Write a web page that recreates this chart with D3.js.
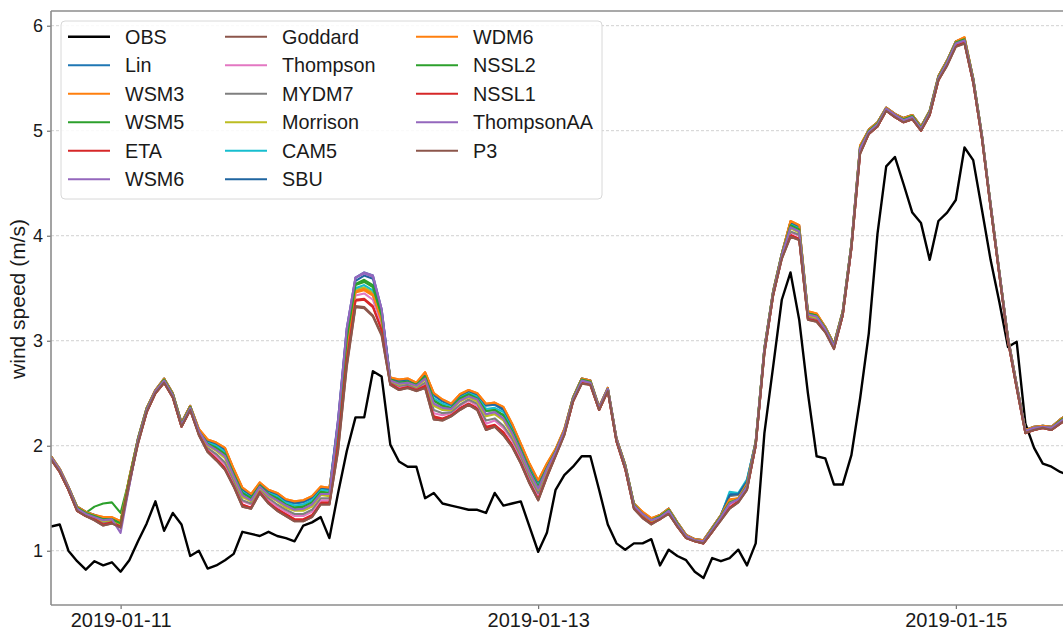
<!DOCTYPE html>
<html>
<head>
<meta charset="utf-8">
<script src="https://cdn.jsdelivr.net/npm/d3@7"></script>
<style>
  body { margin: 0; background: #fff; }
  svg text { font-family: "Liberation Sans", Arial, Helvetica, sans-serif; fill: #1a1a1a; }
</style>
</head>
<body>
<div id="container"></div>
<script>
// hourly series, first value at 2019-01-10 16:00 UTC
const startTime = "2019-01-10T16:00:00Z";
const xTickLabels = ["2019-01-11", "2019-01-13", "2019-01-15"];
const yTicks = [1, 2, 3, 4, 5, 6];

const obs = [1.23,1.25,1.00,0.90,0.82,0.90,0.86,0.89,0.80,0.91,
  1.09,1.26,1.47,1.19,1.36,1.25,0.95,1.00,0.83,0.86,
  0.91,0.97,1.18,1.16,1.14,1.18,1.14,1.12,1.09,1.24,
  1.27,1.32,1.12,1.55,1.95,2.27,2.27,2.71,2.66,2.01,
  1.85,1.80,1.80,1.50,1.55,1.45,1.43,1.41,1.39,1.39,
  1.36,1.55,1.43,1.45,1.47,1.23,0.99,1.17,1.58,1.72,
  1.80,1.90,1.90,1.58,1.25,1.07,1.01,1.07,1.07,1.11,
  0.86,1.01,0.95,0.91,0.80,0.74,0.93,0.90,0.93,1.01,
  0.86,1.07,2.12,2.75,3.39,3.65,3.20,2.50,1.90,1.88,
  1.63,1.63,1.91,2.45,3.07,4.02,4.66,4.75,4.49,4.22,
  4.12,3.77,4.14,4.22,4.34,4.84,4.72,4.25,3.77,3.37,
  2.94,2.99,2.21,1.98,1.83,1.80,1.75,1.72];

const lin = [1.90,1.78,1.61,1.42,1.37,1.34,1.31,1.31,1.27,1.69,
  2.07,2.36,2.53,2.64,2.50,2.22,2.38,2.15,2.05,2.01,
  1.96,1.76,1.58,1.53,1.64,1.57,1.53,1.47,1.45,1.46,
  1.50,1.59,1.58,2.25,3.12,3.60,3.65,3.62,3.30,2.64,
  2.62,2.63,2.59,2.69,2.48,2.42,2.39,2.48,2.52,2.48,
  2.38,2.39,2.34,2.19,2.00,1.81,1.65,1.82,1.96,2.15,
  2.46,2.64,2.62,2.37,2.55,2.07,1.82,1.45,1.36,1.30,
  1.34,1.40,1.27,1.15,1.11,1.10,1.22,1.34,1.54,1.54,
  1.67,2.04,2.93,3.47,3.83,4.13,4.09,3.27,3.25,3.13,
  2.97,3.28,3.92,4.85,5.01,5.08,5.22,5.16,5.12,5.15,
  5.04,5.19,5.52,5.67,5.85,5.88,5.50,4.96,4.30,3.66,
  3.03,2.58,2.15,2.18,2.19,2.18,2.25,2.31];

const wsm3 = [1.90,1.78,1.61,1.42,1.37,1.34,1.32,1.32,1.28,1.70,
  2.07,2.36,2.53,2.64,2.50,2.22,2.38,2.16,2.06,2.03,
  1.98,1.78,1.60,1.54,1.65,1.58,1.55,1.49,1.47,1.48,
  1.52,1.61,1.60,2.10,2.94,3.46,3.48,3.43,3.18,2.65,
  2.63,2.64,2.60,2.70,2.50,2.44,2.40,2.49,2.53,2.50,
  2.40,2.41,2.37,2.21,2.02,1.83,1.67,1.83,1.97,2.16,
  2.46,2.64,2.62,2.37,2.55,2.07,1.82,1.45,1.37,1.31,
  1.34,1.40,1.27,1.15,1.11,1.10,1.22,1.34,1.48,1.50,
  1.63,2.04,2.93,3.47,3.83,4.14,4.10,3.28,3.26,3.13,
  2.97,3.28,3.92,4.86,5.01,5.08,5.22,5.16,5.12,5.15,
  5.04,5.19,5.52,5.67,5.85,5.89,5.50,4.96,4.30,3.66,
  3.03,2.58,2.15,2.18,2.19,2.18,2.25,2.31];

const wsm5 = [1.89,1.77,1.60,1.41,1.36,1.42,1.45,1.46,1.36,1.68,
  2.06,2.35,2.52,2.63,2.49,2.21,2.37,2.14,2.02,1.98,
  1.92,1.73,1.55,1.50,1.62,1.54,1.50,1.44,1.41,1.42,
  1.46,1.56,1.55,2.18,3.04,3.54,3.58,3.53,3.25,2.63,
  2.60,2.61,2.58,2.66,2.43,2.38,2.36,2.45,2.49,2.45,
  2.33,2.34,2.29,2.14,1.96,1.77,1.61,1.79,1.95,2.14,
  2.45,2.63,2.61,2.36,2.54,2.06,1.81,1.44,1.35,1.29,
  1.33,1.39,1.26,1.14,1.10,1.09,1.21,1.33,1.46,1.49,
  1.62,2.03,2.92,3.46,3.82,4.10,4.06,3.26,3.24,3.12,
  2.96,3.27,3.91,4.84,5.00,5.07,5.21,5.15,5.11,5.14,
  5.03,5.18,5.51,5.66,5.84,5.87,5.49,4.95,4.29,3.65,
  3.02,2.57,2.14,2.17,2.18,2.17,2.24,2.30];

const eta = [1.87,1.75,1.58,1.38,1.33,1.30,1.25,1.27,1.23,1.65,
  2.03,2.32,2.50,2.60,2.46,2.18,2.34,2.11,1.95,1.88,
  1.79,1.63,1.44,1.41,1.56,1.46,1.40,1.35,1.30,1.30,
  1.34,1.46,1.46,2.03,2.84,3.39,3.40,3.33,3.11,2.59,
  2.54,2.56,2.53,2.57,2.28,2.26,2.29,2.36,2.40,2.36,
  2.18,2.20,2.13,2.01,1.85,1.66,1.50,1.71,1.91,2.11,
  2.42,2.60,2.58,2.34,2.52,2.04,1.78,1.41,1.32,1.26,
  1.30,1.36,1.23,1.12,1.09,1.07,1.18,1.30,1.41,1.47,
  1.59,2.00,2.89,3.43,3.79,4.01,3.97,3.21,3.19,3.09,
  2.93,3.24,3.88,4.79,4.97,5.04,5.19,5.13,5.08,5.11,
  5.00,5.15,5.48,5.63,5.81,5.84,5.46,4.93,4.27,3.63,
  3.00,2.55,2.12,2.15,2.17,2.15,2.21,2.27];

const wsm6 = [1.89,1.77,1.60,1.40,1.35,1.32,1.29,1.30,1.22,1.62,
  2.05,2.34,2.52,2.62,2.48,2.20,2.36,2.14,2.01,1.96,
  1.90,1.71,1.53,1.48,1.61,1.53,1.48,1.43,1.39,1.40,
  1.44,1.54,1.54,2.25,3.12,3.60,3.65,3.62,3.30,2.62,
  2.59,2.60,2.57,2.64,2.40,2.36,2.35,2.43,2.47,2.44,
  2.30,2.32,2.26,2.12,1.94,1.75,1.59,1.78,1.94,2.14,
  2.44,2.62,2.60,2.36,2.54,2.06,1.80,1.43,1.35,1.29,
  1.32,1.38,1.25,1.14,1.10,1.09,1.20,1.32,1.45,1.49,
  1.61,2.02,2.91,3.45,3.81,4.08,4.04,3.25,3.23,3.11,
  2.95,3.26,3.90,4.83,4.99,5.06,5.21,5.15,5.10,5.13,
  5.02,5.17,5.50,5.65,5.83,5.87,5.48,4.95,4.29,3.65,
  3.02,2.57,2.14,2.17,2.18,2.17,2.23,2.29];

const goddard = [1.87,1.75,1.58,1.38,1.33,1.29,1.24,1.26,1.22,1.64,
  2.02,2.32,2.50,2.60,2.46,2.18,2.34,2.10,1.94,1.86,
  1.77,1.61,1.42,1.40,1.55,1.45,1.38,1.33,1.28,1.28,
  1.32,1.44,1.44,1.95,2.75,3.32,3.31,3.23,3.05,2.58,
  2.53,2.55,2.52,2.55,2.25,2.24,2.28,2.34,2.39,2.34,
  2.15,2.18,2.10,1.99,1.83,1.64,1.48,1.70,1.90,2.10,
  2.42,2.59,2.58,2.34,2.52,2.04,1.78,1.40,1.31,1.25,
  1.30,1.35,1.23,1.12,1.09,1.07,1.18,1.29,1.40,1.46,
  1.58,2.00,2.88,3.43,3.78,3.99,3.96,3.20,3.18,3.08,
  2.92,3.24,3.88,4.78,4.97,5.04,5.19,5.13,5.08,5.11,
  5.00,5.15,5.48,5.62,5.80,5.83,5.46,4.93,4.27,3.63,
  3.00,2.55,2.12,2.15,2.17,2.15,2.21,2.27];

const thompson = [1.88,1.76,1.59,1.39,1.34,1.30,1.26,1.28,1.24,1.66,
  2.03,2.33,2.51,2.61,2.47,2.19,2.35,2.12,1.97,1.90,
  1.82,1.65,1.47,1.44,1.58,1.48,1.42,1.37,1.33,1.33,
  1.37,1.48,1.48,2.07,2.90,3.43,3.45,3.39,3.15,2.60,
  2.56,2.57,2.54,2.59,2.31,2.29,2.31,2.38,2.43,2.38,
  2.21,2.24,2.17,2.05,1.88,1.69,1.53,1.73,1.92,2.12,
  2.43,2.60,2.59,2.35,2.53,2.05,1.79,1.41,1.33,1.27,
  1.31,1.36,1.24,1.13,1.10,1.08,1.19,1.30,1.44,1.48,
  1.61,2.01,2.89,3.44,3.79,4.03,4.00,3.22,3.20,3.09,
  2.93,3.25,3.89,4.80,4.98,5.05,5.20,5.14,5.09,5.12,
  5.01,5.16,5.49,5.63,5.81,5.85,5.47,4.94,4.28,3.64,
  3.01,2.56,2.13,2.16,2.18,2.16,2.22,2.28];

const mydm7 = [1.88,1.76,1.59,1.39,1.34,1.31,1.27,1.28,1.24,1.66,
  2.04,2.33,2.51,2.61,2.47,2.19,2.35,2.12,1.98,1.92,
  1.84,1.67,1.48,1.45,1.59,1.50,1.44,1.39,1.35,1.35,
  1.39,1.50,1.50,2.12,2.95,3.47,3.50,3.44,3.19,2.60,
  2.57,2.58,2.55,2.60,2.34,2.31,2.32,2.39,2.44,2.40,
  2.24,2.26,2.19,2.07,1.90,1.71,1.55,1.75,1.92,2.12,
  2.43,2.61,2.59,2.35,2.53,2.05,1.79,1.42,1.33,1.27,
  1.31,1.37,1.24,1.13,1.10,1.08,1.19,1.31,1.52,1.53,
  1.65,2.01,2.90,3.44,3.80,4.04,4.01,3.23,3.21,3.10,
  2.94,3.25,3.89,4.81,4.98,5.05,5.20,5.14,5.09,5.12,
  5.01,5.16,5.49,5.64,5.82,5.85,5.47,4.94,4.28,3.64,
  3.01,2.56,2.13,2.16,2.18,2.16,2.22,2.28];

const morrison = [1.89,1.77,1.60,1.40,1.35,1.32,1.28,1.29,1.25,1.67,
  2.05,2.34,2.52,2.62,2.48,2.20,2.36,2.13,2.00,1.95,
  1.88,1.70,1.51,1.47,1.60,1.52,1.47,1.41,1.38,1.38,
  1.42,1.53,1.52,2.13,2.97,3.49,3.51,3.46,3.20,2.62,
  2.58,2.60,2.56,2.63,2.38,2.34,2.34,2.42,2.46,2.42,
  2.28,2.30,2.24,2.10,1.93,1.74,1.58,1.77,1.94,2.13,
  2.44,2.62,2.60,2.36,2.54,2.06,1.80,1.43,1.34,1.28,
  1.32,1.38,1.25,1.14,1.10,1.09,1.20,1.32,1.47,1.50,
  1.62,2.02,2.91,3.45,3.81,4.07,4.03,3.24,3.22,3.11,
  2.95,3.26,3.90,4.82,4.99,5.06,5.21,5.15,5.10,5.13,
  5.02,5.17,5.50,5.65,5.83,5.86,5.48,4.95,4.29,3.65,
  3.02,2.57,2.14,2.17,2.18,2.17,2.23,2.29];

const cam5 = [1.89,1.77,1.60,1.41,1.36,1.33,1.30,1.31,1.27,1.69,
  2.06,2.35,2.52,2.63,2.49,2.21,2.37,2.15,2.04,2.00,
  1.94,1.75,1.56,1.51,1.63,1.55,1.52,1.46,1.43,1.44,
  1.48,1.58,1.57,2.15,2.99,3.50,3.53,3.48,3.21,2.64,
  2.61,2.62,2.58,2.67,2.45,2.40,2.38,2.46,2.50,2.47,
  2.35,2.36,2.32,2.17,1.98,1.79,1.63,1.80,1.96,2.15,
  2.45,2.63,2.61,2.36,2.54,2.06,1.81,1.44,1.36,1.30,
  1.33,1.39,1.26,1.14,1.11,1.09,1.21,1.33,1.56,1.55,
  1.68,2.03,2.92,3.46,3.82,4.11,4.07,3.26,3.24,3.12,
  2.96,3.27,3.91,4.84,5.00,5.07,5.21,5.15,5.11,5.14,
  5.03,5.18,5.51,5.66,5.84,5.88,5.49,4.95,4.29,3.65,
  3.02,2.57,2.14,2.17,2.19,2.17,2.24,2.30];

const sbu = [1.90,1.78,1.61,1.42,1.37,1.34,1.31,1.31,1.27,1.69,
  2.07,2.36,2.53,2.64,2.50,2.22,2.38,2.15,2.05,2.02,
  1.97,1.77,1.59,1.53,1.64,1.57,1.54,1.48,1.46,1.47,
  1.51,1.60,1.59,2.22,3.08,3.57,3.62,3.59,3.28,2.64,
  2.62,2.63,2.59,2.69,2.49,2.43,2.39,2.48,2.52,2.49,
  2.39,2.40,2.35,2.20,2.01,1.82,1.66,1.82,1.96,2.15,
  2.46,2.64,2.62,2.37,2.55,2.07,1.82,1.45,1.36,1.30,
  1.34,1.40,1.27,1.15,1.11,1.10,1.22,1.34,1.53,1.54,
  1.66,2.04,2.93,3.47,3.83,4.13,4.09,3.27,3.25,3.13,
  2.97,3.28,3.92,4.85,5.01,5.08,5.22,5.16,5.12,5.15,
  5.04,5.19,5.52,5.67,5.85,5.88,5.50,4.96,4.30,3.66,
  3.03,2.58,2.15,2.18,2.19,2.18,2.25,2.31];

const wdm6 = [1.90,1.78,1.61,1.42,1.37,1.34,1.32,1.32,1.28,1.70,
  2.07,2.36,2.53,2.64,2.50,2.22,2.38,2.16,2.06,2.03,
  1.98,1.78,1.60,1.54,1.65,1.58,1.55,1.49,1.47,1.48,
  1.52,1.61,1.60,2.11,2.96,3.47,3.49,3.44,3.19,2.65,
  2.63,2.64,2.60,2.70,2.50,2.44,2.40,2.49,2.53,2.50,
  2.40,2.41,2.37,2.21,2.02,1.83,1.67,1.83,1.97,2.16,
  2.46,2.64,2.62,2.37,2.55,2.07,1.82,1.45,1.37,1.31,
  1.34,1.40,1.27,1.15,1.11,1.10,1.22,1.34,1.49,1.50,
  1.64,2.04,2.93,3.47,3.83,4.14,4.10,3.28,3.26,3.13,
  2.97,3.28,3.92,4.86,5.01,5.08,5.22,5.16,5.12,5.15,
  5.04,5.19,5.52,5.67,5.85,5.89,5.50,4.96,4.30,3.66,
  3.03,2.58,2.15,2.18,2.19,2.18,2.25,2.31];

const nssl2 = [1.89,1.77,1.60,1.41,1.36,1.33,1.30,1.30,1.26,1.68,
  2.06,2.35,2.52,2.63,2.49,2.21,2.37,2.14,2.02,1.98,
  1.92,1.73,1.55,1.50,1.62,1.54,1.50,1.44,1.41,1.42,
  1.46,1.56,1.55,2.17,3.02,3.53,3.56,3.51,3.24,2.63,
  2.60,2.61,2.58,2.66,2.43,2.38,2.36,2.45,2.49,2.45,
  2.33,2.34,2.29,2.14,1.96,1.77,1.61,1.79,1.95,2.14,
  2.45,2.63,2.61,2.36,2.54,2.06,1.81,1.44,1.35,1.29,
  1.33,1.39,1.26,1.14,1.10,1.09,1.21,1.33,1.46,1.49,
  1.62,2.03,2.92,3.46,3.82,4.10,4.06,3.26,3.24,3.12,
  2.96,3.27,3.91,4.84,5.00,5.07,5.21,5.15,5.11,5.14,
  5.03,5.18,5.51,5.66,5.84,5.87,5.49,4.95,4.29,3.65,
  3.02,2.57,2.14,2.17,2.18,2.17,2.24,2.30];

const nssl1 = [1.87,1.75,1.58,1.38,1.33,1.30,1.25,1.27,1.23,1.65,
  2.03,2.32,2.50,2.60,2.46,2.18,2.34,2.11,1.95,1.87,
  1.78,1.62,1.43,1.41,1.56,1.46,1.39,1.34,1.29,1.29,
  1.33,1.45,1.45,2.02,2.82,3.38,3.39,3.32,3.10,2.59,
  2.54,2.56,2.53,2.57,2.27,2.25,2.29,2.35,2.40,2.35,
  2.17,2.19,2.12,2.00,1.84,1.65,1.49,1.71,1.91,2.11,
  2.42,2.60,2.58,2.34,2.52,2.04,1.78,1.41,1.32,1.26,
  1.30,1.36,1.23,1.12,1.09,1.07,1.18,1.30,1.41,1.47,
  1.59,2.00,2.89,3.43,3.79,4.00,3.97,3.21,3.19,3.09,
  2.93,3.24,3.88,4.79,4.97,5.04,5.19,5.13,5.08,5.11,
  5.00,5.15,5.48,5.63,5.81,5.84,5.46,4.93,4.27,3.63,
  3.00,2.55,2.12,2.15,2.17,2.15,2.21,2.27];

const thompsonAA = [1.89,1.77,1.60,1.40,1.35,1.32,1.29,1.30,1.17,1.62,
  2.05,2.34,2.52,2.62,2.48,2.20,2.36,2.14,2.01,1.96,
  1.90,1.71,1.53,1.48,1.61,1.53,1.48,1.43,1.39,1.40,
  1.44,1.54,1.54,2.24,3.11,3.60,3.64,3.61,3.30,2.62,
  2.59,2.60,2.57,2.64,2.40,2.36,2.35,2.43,2.47,2.44,
  2.30,2.32,2.26,2.12,1.94,1.75,1.59,1.78,1.94,2.14,
  2.44,2.62,2.60,2.36,2.54,2.06,1.80,1.43,1.35,1.29,
  1.32,1.38,1.25,1.14,1.10,1.09,1.20,1.32,1.45,1.49,
  1.61,2.02,2.91,3.45,3.81,4.08,4.04,3.25,3.23,3.11,
  2.95,3.26,3.90,4.83,4.99,5.06,5.21,5.15,5.10,5.13,
  5.02,5.17,5.50,5.65,5.83,5.86,5.48,4.95,4.29,3.65,
  3.02,2.57,2.14,2.17,2.18,2.17,2.23,2.29];

const p3 = [1.87,1.75,1.58,1.38,1.33,1.29,1.24,1.26,1.22,1.64,
  2.02,2.32,2.50,2.60,2.46,2.18,2.34,2.10,1.94,1.86,
  1.77,1.61,1.42,1.40,1.55,1.45,1.38,1.33,1.28,1.28,
  1.32,1.44,1.44,1.96,2.77,3.33,3.32,3.24,3.06,2.58,
  2.53,2.55,2.52,2.55,2.25,2.24,2.28,2.34,2.39,2.34,
  2.15,2.18,2.10,1.99,1.83,1.64,1.48,1.70,1.90,2.10,
  2.42,2.59,2.58,2.34,2.52,2.04,1.78,1.40,1.31,1.25,
  1.30,1.35,1.23,1.12,1.09,1.07,1.18,1.29,1.40,1.46,
  1.58,2.00,2.88,3.43,3.78,3.99,3.96,3.20,3.18,3.08,
  2.92,3.24,3.88,4.78,4.97,5.04,5.19,5.13,5.08,5.11,
  5.00,5.15,5.48,5.62,5.80,5.83,5.46,4.93,4.27,3.63,
  3.00,2.55,2.12,2.15,2.17,2.15,2.21,2.27];

const seriesNames = ["OBS", "Lin", "WSM3", "WSM5", "ETA", "WSM6", "Goddard", "Thompson", "MYDM7",
  "Morrison", "CAM5", "SBU", "WDM6", "NSSL2", "NSSL1", "ThompsonAA", "P3"];
const seriesValues = [obs, lin, wsm3, wsm5, eta, wsm6, goddard, thompson, mydm7,
  morrison, cam5, sbu, wdm6, nssl2, nssl1, thompsonAA, p3];
const seriesColors = ["#000000", "#1f77b4", "#ff7f0e", "#2ca02c", "#d62728", "#9467bd", "#8c564b",
  "#e377c2", "#7f7f7f", "#bcbd22", "#17becf", "#1f65a0", "#ff7f0e", "#2ca02c", "#d62728", "#9467bd", "#8c564b"];

/*-------------------------- THE CHART --------------------------*/
const w = 1063;
const h = 633;
const plotLeft = 51, plotRight = 1077.6, plotTop = 11, plotBottom = 605;

const t0 = d3.isoParse(startTime);
const x = d3.scaleUtc()
  .domain([t0, d3.utcHour.offset(t0, 118)])
  .range([plotLeft, plotRight]);
const y = d3.scaleLinear()
  .domain([0.483, 6.14])
  .range([plotBottom, plotTop]);

const svg = d3.select("#container")
  .append("svg")
  .attr("width", w)
  .attr("height", h);

svg.append("clipPath").attr("id", "plot-clip")
  .append("rect")
  .attr("x", plotLeft).attr("y", plotTop)
  .attr("width", plotRight - plotLeft).attr("height", plotBottom - plotTop);

// dashed horizontal grid
svg.append("g")
  .selectAll("line")
  .data(yTicks)
  .enter()
  .append("line")
  .attr("x1", plotLeft).attr("x2", plotRight)
  .attr("y1", d => y(d)).attr("y2", d => y(d))
  .attr("stroke", "#cccccc")
  .attr("stroke-width", 0.9)
  .attr("stroke-dasharray", "3,2");

// series
const line = d3.line()
  .x((d, i) => x(d3.utcHour.offset(t0, i)))
  .y(d => y(d));

svg.append("g")
  .attr("clip-path", "url(#plot-clip)")
  .selectAll("path")
  .data(seriesValues)
  .enter()
  .append("path")
  .attr("d", d => line(d))
  .attr("fill", "none")
  .attr("stroke", (d, i) => seriesColors[i])
  .attr("stroke-width", (d, i) => i === 0 ? 2.4 : 2.1)
  .attr("stroke-linejoin", "round");

// axes
const yAxis = d3.axisLeft(y).tickValues(yTicks).tickSize(4).tickPadding(4).tickFormat(d3.format("d"));
const gy = svg.append("g").attr("transform", `translate(${plotLeft},0)`).call(yAxis);

const xAxis = d3.axisBottom(x)
  .tickValues(xTickLabels.map(d => d3.utcParse("%Y-%m-%d")(d)))
  .tickFormat(d3.utcFormat("%Y-%m-%d"))
  .tickSize(4).tickPadding(4);
const gx = svg.append("g").attr("transform", `translate(0,${plotBottom})`).call(xAxis);

[gx, gy].forEach(g => {
  g.select(".domain").remove();
  g.selectAll(".tick line").attr("stroke", "#555");
  g.selectAll("text").attr("fill", "#1a1a1a");
});
gy.selectAll("text").style("font-size", "18px");
gx.selectAll("text").style("font-size", "20px");

// spines
const spine = svg.append("g").attr("stroke", "#8c8c8c").attr("stroke-width", 1.6);
spine.append("line").attr("x1", plotLeft).attr("x2", plotLeft).attr("y1", plotTop).attr("y2", plotBottom);
spine.append("line").attr("x1", plotLeft).attr("x2", w).attr("y1", plotBottom).attr("y2", plotBottom);
spine.append("line").attr("x1", plotLeft).attr("x2", w).attr("y1", plotTop).attr("y2", plotTop);

svg.append("text")
  .attr("transform", `translate(18,299) rotate(-90)`)
  .attr("text-anchor", "middle")
  .attr("dy", "0.35em")
  .style("font-size", "21px")
  .text("wind speed (m/s)");

/*-------------------------- THE LEGEND --------------------------*/
const legend = svg.append("g");
legend.append("rect")
  .attr("x", 61).attr("y", 21)
  .attr("width", 541).attr("height", 178)
  .attr("rx", 4)
  .attr("fill", "#fff").attr("fill-opacity", 0.85)
  .attr("stroke", "#d8d8d8");

const colLineX = [68, 225, 416];
const colTextX = [125, 282, 473];
const items = legend.selectAll("g.item")
  .data(seriesNames)
  .enter()
  .append("g")
  .attr("class", "item")
  .attr("transform", (d, i) => `translate(0,${36.7 + (i % 6) * 28.5})`);

items.append("line")
  .attr("x1", (d, i) => colLineX[Math.floor(i / 6)])
  .attr("x2", (d, i) => colLineX[Math.floor(i / 6)] + 42)
  .attr("stroke", (d, i) => seriesColors[i])
  .attr("stroke-width", (d, i) => i === 0 ? 2.4 : 2.1);

items.append("text")
  .attr("x", (d, i) => colTextX[Math.floor(i / 6)])
  .attr("dy", "0.36em")
  .style("font-size", "19.8px")
  .text(d => d);
</script>
</body>
</html>
